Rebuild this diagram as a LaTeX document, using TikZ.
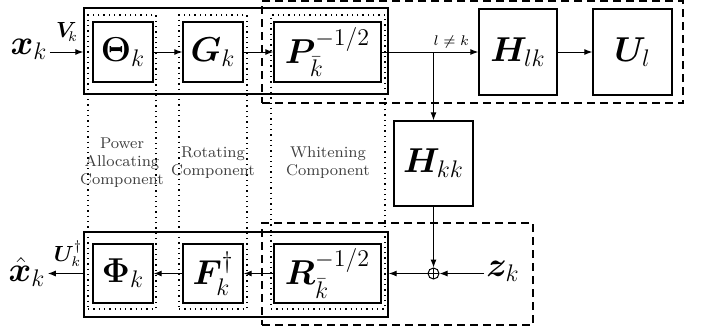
\documentclass[tikz,border=0pt]{standalone}
\usepackage{amsmath,amssymb,bm}
\usetikzlibrary{arrows.meta}
\begin{document}
\begin{tikzpicture}[x=0.5pt,y=-0.5pt,
  box/.style={draw,line width=0.7pt,inner sep=0pt,font=\fontsize{18.5}{21}\selectfont},
  outer/.style={draw,line width=0.7pt,inner sep=0pt},
  dotbox/.style={draw,dotted,line width=0.65pt,inner sep=0pt},
  dashbox/.style={draw,dash pattern=on 4pt off 2.5pt,line width=0.65pt,inner sep=0pt},
  arr/.style={-{Latex[length=4pt,width=3pt]},line width=0.5pt},
  big/.style={inner sep=1pt,font=\fontsize{18.5}{21}\selectfont},
  lab/.style={inner sep=1pt,font=\fontsize{10.5}{12}\selectfont},
  comp/.style={align=center,text=black!75,font=\fontsize{7.8}{9}\selectfont}]
\useasboundingbox (0,0) rectangle (704,333);
% dashed regions
\node[dashbox,minimum width=210.5pt,minimum height=51pt] (dashT) at (472.5,52) {};
\node[dashbox,minimum width=135.5pt,minimum height=51pt] (dashB) at (397.5,274) {};
% dotted columns
\node[dotbox,minimum width=34pt,minimum height=147pt] (col1) at (122,162) {};
\node[dotbox,minimum width=34pt,minimum height=147pt] (col2) at (213,162) {};
\node[dotbox,minimum width=57pt,minimum height=147pt] (col3) at (328,162) {};
% outer solid rectangles
\node[outer,minimum width=152pt,minimum height=43pt] (outerT) at (236,51) {};
\node[outer,minimum width=152pt,minimum height=42.5pt] (outerB) at (236,274.5) {};
% top boxes
\node[box,minimum width=30pt,minimum height=30pt] (theta) at (123,52) {$\bm{\Theta}_k$};
\node[box,minimum width=30pt,minimum height=30pt] (G) at (213,52) {$\bm{G}_k$};
\node[box,minimum width=53.5pt,minimum height=30pt] (P) at (327.5,52) {$\bm{P}_{\bar{k}}^{-1/2}$};
\node[box,minimum width=39pt,minimum height=43pt] (Hlk) at (518,52) {$\bm{H}_{lk}$};
\node[box,minimum width=39.5pt,minimum height=43pt] (Ul) at (632.5,52) {$\bm{U}_{l}$};
\node[box,minimum width=39.5pt,minimum height=42.5pt] (Hkk) at (433.5,163.5) {$\bm{H}_{kk}$};
% bottom boxes
\node[box,minimum width=30pt,minimum height=29.5pt] (Phi) at (123,273.5) {$\bm{\Phi}_k$};
\node[box,minimum width=30pt,minimum height=29.5pt] (F) at (213,273.5) {$\bm{F}_k^{\dagger}$};
\node[box,minimum width=53.5pt,minimum height=29.5pt] (R) at (327.5,273.5) {$\bm{R}_{\bar{k}}^{-1/2}$};
% sum
\node[draw,circle,line width=0.5pt,inner sep=0pt,minimum size=5.5pt,
  path picture={\draw[line width=0.5pt] (path picture bounding box.north) -- (path picture bounding box.south)
  (path picture bounding box.west) -- (path picture bounding box.east);}] (plus) at (433.5,273.5) {};
% signals
\node[big] (xk) at (29,49) {$\bm{x}_k$};
\node[big] (zk) at (503,271) {$\bm{z}_k$};
\node[big] (xhat) at (27,272) {$\hat{\bm{x}}_k$};
\node[lab] (Vk) at (67,32) {$\bm{V}_{\!k}$};
\node[lab] (Uk) at (68,254) {$\bm{U}_k^{\dagger}$};
% component labels
\node[comp] (c1) at (122,163) {Power\\Allocating\\Component};
\node[comp] (c2) at (213,163) {Rotating\\Component};
\node[comp] (c3) at (328,163) {Whitening\\Component};
% connectors
\draw[arr] (xk.east |- theta) -- (outerT.west |- theta);
\draw[arr] (theta) -- (G);
\draw[arr] (G) -- (P);
\draw[arr] (P) -- node[pos=0.72,above,inner sep=1.5pt,font=\fontsize{7}{8}\selectfont] (lnk) {$l\neq k$} (Hlk);
\draw[arr] (Hlk) -- (Ul);
\coordinate (br) at (Hkk.north |- P);
\draw[arr] (br) -- (Hkk.north);
\draw[arr] (Hkk.south) -- (plus.north);
\draw[arr] (zk.west |- plus) -- (plus.east);
\draw[arr] (plus.west) -- (outerB.east |- plus);
\draw[arr] (R) -- (F);
\draw[arr] (F) -- (Phi);
\draw[arr] (outerB.west |- Phi) -- (xhat.east |- Phi);
\end{tikzpicture}
\end{document}
